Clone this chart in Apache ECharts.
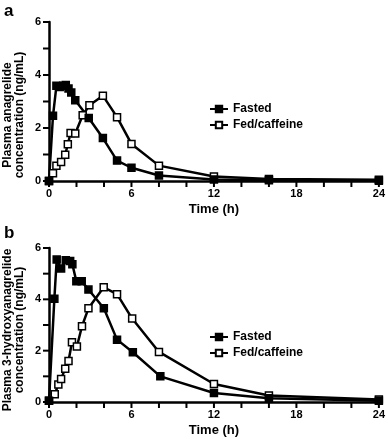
<!DOCTYPE html>
<html><head><meta charset="utf-8">
<script src="https://cdn.jsdelivr.net/npm/echarts@6/dist/echarts.min.js"></script>
<style>html,body{margin:0;padding:0;background:#fff}#c{width:388px;height:439px}</style>
</head><body><div id="c"></div>
<script>
// Panel a: plasma anagrelide
var timeAFasted = [0, 0.29, 0.54, 0.78, 1.03, 1.22, 1.42, 1.62, 1.91, 2.89, 3.92, 4.95, 6, 8, 12, 16, 24];
var concAFasted = [0, 2.46, 3.59, 3.55, 3.59, 3.62, 3.49, 3.34, 3.05, 2.38, 1.62, 0.77, 0.5, 0.21, 0.06, 0.03, 0.01];
var timeAFed = [0, 0.29, 0.54, 0.88, 1.18, 1.37, 1.57, 1.91, 2.45, 2.94, 3.92, 4.95, 6, 8, 12, 16, 24];
var concAFed = [0, 0.29, 0.58, 0.72, 0.99, 1.39, 1.81, 1.79, 2.48, 2.86, 3.22, 2.41, 1.4, 0.58, 0.17, 0.08, 0.05];
// Panel b: plasma 3-hydroxyanagrelide
var timeBFasted = [0, 0.39, 0.56, 0.88, 1.22, 1.54, 1.7, 1.99, 2.38, 2.87, 3.99, 4.95, 6.1, 8.1, 12, 16, 24];
var concBFasted = [0.05, 4.02, 5.55, 5.2, 5.52, 5.49, 5.37, 4.7, 4.7, 4.38, 3.65, 2.43, 1.94, 1.0, 0.35, 0.15, 0.05];
var timeBFed = [0, 0.42, 0.68, 0.88, 1.18, 1.42, 1.67, 2.03, 2.4, 2.87, 3.98, 4.95, 6.05, 8, 12, 16, 24];
var concBFed = [0.05, 0.3, 0.68, 0.9, 1.3, 1.6, 2.33, 2.16, 2.95, 3.65, 4.47, 4.2, 3.25, 1.95, 0.7, 0.25, 0.1];
var seriesNames = ['Fasted', 'Fed/caffeine'];
var xTicks = [0, 6, 12, 18, 24];
var yTicks = [0, 2, 4, 6];
// tick mark positions (major + minor)
var xTickMarks = [0, 2, 4, 6, 8, 10, 12, 14, 16, 18, 20, 22, 24];
var yTickMarks = [0, 1, 2, 3, 4, 5, 6];

function pairs(t, v) { return t.map(function (x, i) { return [x, v[i]]; }); }

var FONT = '"Liberation Sans", Arial, sans-serif';
var chart = echarts.init(document.getElementById('c'), null, {renderer: 'canvas'});

function xAx(gi) {
  return {
    type: 'value', gridIndex: gi, min: xTicks[0], max: xTicks[xTicks.length - 1], interval: 6,
    axisLine: {show: true, onZero: false, lineStyle: {color: '#000', width: 2.5}},
    axisTick: {show: false},
    splitLine: {show: false},
    axisLabel: {color: '#000', fontFamily: FONT, fontWeight: 'bold', fontSize: 11, margin: 7},
    name: 'Time (h)', nameLocation: 'middle', nameGap: 22,
    nameTextStyle: {color: '#000', fontFamily: FONT, fontWeight: 'bold', fontSize: 13}
  };
}
function yAx(gi) {
  return {
    type: 'value', gridIndex: gi, min: yTicks[0], max: yTicks[yTicks.length - 1], interval: 2,
    axisLine: {show: true, onZero: false, lineStyle: {color: '#000', width: 2.5}},
    axisTick: {show: false},
    splitLine: {show: false},
    axisLabel: {color: '#000', fontFamily: FONT, fontWeight: 'bold', fontSize: 11, margin: 8}
  };
}
function ser(name, gi, data, filled) {
  return {
    name: name, type: 'line', xAxisIndex: gi, yAxisIndex: gi, data: data,
    symbol: 'rect', symbolSize: 7,
    lineStyle: {color: '#000', width: 2.5},
    itemStyle: {color: filled ? '#000' : '#fff', borderColor: '#000', borderWidth: 1.5}
  };
}
function tickSeries(gi, horizontal) {
  var data = horizontal
    ? xTickMarks.map(function (v) { return [v, yTicks[0]]; })
    : yTickMarks.map(function (v) { return [xTicks[0], v]; });
  return {
    type: 'custom', xAxisIndex: gi, yAxisIndex: gi, data: data, clip: false, silent: true,
    renderItem: function (params, api) {
      var p = api.coord([api.value(0), api.value(1)]);
      var shape = horizontal
        ? {x1: p[0], y1: p[1], x2: p[0], y2: p[1] + 6}
        : {x1: p[0] - 6, y1: p[1], x2: p[0], y2: p[1]};
      return {type: 'line', shape: shape, style: {stroke: '#000', lineWidth: 2}};
    }
  };
}
function leg(top) {
  return {
    data: seriesNames, orient: 'vertical', left: 204, top: top, itemGap: 4,
    itemWidth: 18, itemHeight: 8, selectedMode: false,
    textStyle: {color: '#000', fontFamily: FONT, fontWeight: 'bold', fontSize: 12}
  };
}

chart.setOption({
  animation: false,
  grid: [
    {left: 49, right: 8, top: 22, height: 159},
    {left: 49, right: 8, top: 248, height: 154}
  ],
  xAxis: [xAx(0), xAx(1)],
  yAxis: [yAx(0), yAx(1)],
  legend: [leg(98), leg(326)],
  series: [
    tickSeries(0, true), tickSeries(0, false), tickSeries(1, true), tickSeries(1, false),
    ser(seriesNames[1], 0, pairs(timeAFed, concAFed), false),
    ser(seriesNames[0], 0, pairs(timeAFasted, concAFasted), true),
    ser(seriesNames[1], 1, pairs(timeBFed, concBFed), false),
    ser(seriesNames[0], 1, pairs(timeBFasted, concBFasted), true)
  ],
  graphic: [
    {type: 'text', left: 4, top: 3, style: {text: 'a', font: 'bold 17px ' + FONT, fill: '#000'}},
    {type: 'text', left: 4, top: 225, style: {text: 'b', font: 'bold 17px ' + FONT, fill: '#000'}},
    {type: 'text', x: 14, y: 115, rotation: Math.PI / 2,
     style: {text: 'Plasma anagrelide\nconcentration (ng/mL)', font: 'bold 12px ' + FONT, fill: '#000', align: 'center', verticalAlign: 'middle', lineHeight: 12}},
    {type: 'text', x: 14, y: 330, rotation: Math.PI / 2,
     style: {text: 'Plasma 3-hydroxyanagrelide\nconcentration (ng/mL)', font: 'bold 12px ' + FONT, fill: '#000', align: 'center', verticalAlign: 'middle', lineHeight: 12}}
  ]
});
</script></body></html>
